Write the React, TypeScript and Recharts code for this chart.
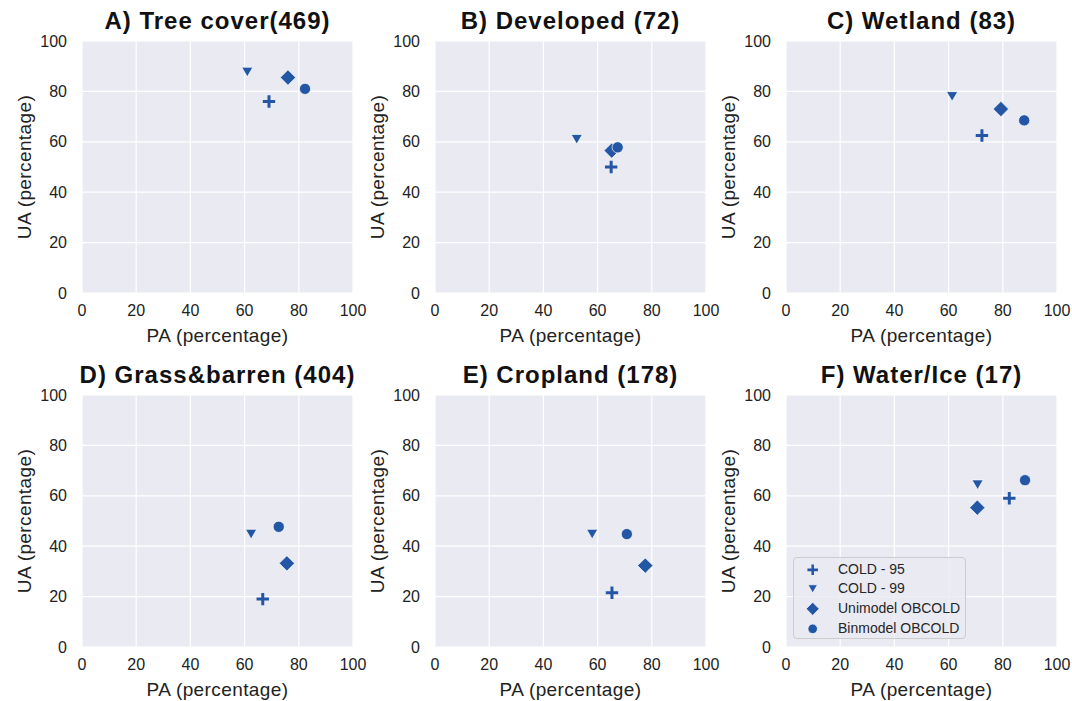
import { ScatterChart, Scatter, XAxis, YAxis, CartesianGrid, Legend } from "recharts";

const panelTitles = [
    "A) Tree cover(469)",
    "B) Developed (72)",
    "C) Wetland (83)",
    "D) Grass&barren (404)",
    "E) Cropland (178)",
    "F) Water/Ice (17)",
];
const seriesNames = ["COLD - 95", "COLD - 99", "Unimodel OBCOLD", "Binmodel OBCOLD"];
const axisTicks = [0, 20, 40, 60, 80, 100];

// PA / UA per panel (A..F)
const cold95PA = [69, 65, 72.3, 66.7, 65.3, 82.4];
const cold95UA = [76, 50, 62.5, 19, 21.5, 59];
const cold99PA = [61, 52.3, 61.3, 62.4, 58, 70.7];
const cold99UA = [87.7, 61, 78, 44.8, 44.8, 64.4];
const uniPA = [76, 65.2, 79.3, 75.6, 77.6, 70.6];
const uniUA = [85.5, 56.5, 73, 33.2, 32.3, 55.3];
const binPA = [82.3, 67.4, 87.9, 72.6, 70.8, 88.2];
const binUA = [81, 57.8, 68.5, 47.7, 44.8, 66.2];

const seriesPA = [cold95PA, cold99PA, uniPA, binPA];
const seriesUA = [cold95UA, cold99UA, uniUA, binUA];
const markerKinds = ["plus", "tri", "diamond", "circle"];

const BLUE = "#2357a5";
const FONT = "'Liberation Sans', Arial, sans-serif";
const CHART_W = 373;
const CHART_H = 350;
const colLeft = [0, 353, 704];
const rowTop = [0, 354];

function MarkerShape({ kind, cx, cy, scale = 1 }: { kind: string; cx: number; cy: number; scale?: number }) {
    if (cx == null || cy == null) return null;
    const s = scale;
    if (kind === "plus") {
        const h = 6.2 * s;
        return (
            <path
                d={`M${cx - h},${cy} H${cx + h} M${cx},${cy - h} V${cy + h}`}
                stroke={BLUE}
                strokeWidth={3 * s}
            />
        );
    }
    if (kind === "tri") {
        const w = 5.6 * s;
        const h = 4.8 * s;
        return (
            <polygon
                points={`${cx - w},${cy - h} ${cx + w},${cy - h} ${cx},${cy + h}`}
                fill={BLUE}
                stroke="white"
                strokeWidth={0.7}
            />
        );
    }
    if (kind === "diamond") {
        const d = 7.7 * s;
        return (
            <polygon
                points={`${cx},${cy - d} ${cx + d},${cy} ${cx},${cy + d} ${cx - d},${cy}`}
                fill={BLUE}
                stroke="white"
                strokeWidth={0.7}
            />
        );
    }
    return <circle cx={cx} cy={cy} r={5.6 * s} fill={BLUE} stroke="white" strokeWidth={0.7} />;
}

function LegendBox() {
    return (
        <div
            style={{
                width: 173,
                height: 82,
                boxSizing: "border-box",
                background: "rgba(234,234,242,0.8)",
                border: "1px solid #cccccc",
                borderRadius: 4,
                paddingTop: 1.5,
                fontFamily: FONT,
                fontSize: 14,
                color: "#262626",
            }}
        >
            {seriesNames.map((name, i) => (
                <div key={name} style={{ display: "flex", alignItems: "center", height: 19.7 }}>
                    <svg width={39} height={19.7} style={{ display: "block" }}>
                        <MarkerShape kind={markerKinds[i]} cx={18.7} cy={9.85} scale={0.85} />
                    </svg>
                    <span style={{ marginLeft: 5, lineHeight: "19.7px" }}>{name}</span>
                </div>
            ))}
        </div>
    );
}

function Panel({ idx }: { idx: number }) {
    const col = idx % 3;
    const row = Math.floor(idx / 3);
    const left = colLeft[col];
    const top = rowTop[row];
    return (
        <div style={{ position: "absolute", left, top, width: CHART_W, height: CHART_H }}>
            <div
                style={{
                    position: "absolute",
                    left: 82 - 40,
                    width: 271 + 80,
                    top: 9,
                    textAlign: "center",
                    fontFamily: FONT,
                    fontWeight: "bold",
                    fontSize: 24,
                    letterSpacing: 1,
                    lineHeight: "24px",
                    color: "#111",
                    whiteSpace: "nowrap",
                }}
            >
                {panelTitles[idx]}
            </div>
            <ScatterChart
                width={CHART_W}
                height={CHART_H}
                margin={{ top: 41, right: 20, bottom: 6, left: 12 }}
                style={{ position: "absolute", left: 0, top: 0 }}
            >
                <CartesianGrid fill="#eaeaf2" stroke="#ffffff" strokeWidth={1.2} />
                <XAxis
                    type="number"
                    dataKey="pa"
                    domain={[0, 100]}
                    ticks={axisTicks}
                    tickLine={false}
                    axisLine={false}
                    tickSize={8}
                    tickMargin={4}
                    height={51}
                    tick={{ fontSize: 16, fill: "#222", fontFamily: FONT }}
                    label={{
                        value: "PA (percentage)",
                        position: "insideBottom",
                        offset: 2,
                        style: { fontSize: 19, fill: "#222", fontFamily: FONT, letterSpacing: 0.4 },
                    }}
                />
                <YAxis
                    type="number"
                    dataKey="ua"
                    domain={[0, 100]}
                    ticks={axisTicks}
                    tickLine={false}
                    axisLine={false}
                    tickSize={10}
                    tickMargin={5}
                    width={70}
                    tick={{ fontSize: 16, fill: "#222", fontFamily: FONT }}
                    label={{
                        value: "UA (percentage)",
                        angle: -90,
                        position: "insideLeft",
                        offset: 12,
                        style: { fontSize: 19, fill: "#222", fontFamily: FONT, textAnchor: "middle", letterSpacing: 0.4 },
                    }}
                />
                {seriesNames.map((name, i) => (
                    <Scatter
                        key={name}
                        name={name}
                        data={[{ pa: seriesPA[i][idx], ua: seriesUA[i][idx] }]}
                        isAnimationActive={false}
                        shape={(p: any) => <MarkerShape kind={markerKinds[i]} cx={p.cx} cy={p.cy} />}
                    />
                ))}
                {idx === 5 && (
                    <Legend
                        layout="vertical"
                        align="center"
                        verticalAlign="middle"
                        content={() => <LegendBox />}
                        wrapperStyle={{ left: 89, top: 203, width: 173, height: 82 }}
                    />
                )}
            </ScatterChart>
        </div>
    );
}

export default function App() {
    return (
        <div
            style={{
                position: "absolute",
                left: 0,
                top: 0,
                width: 1072,
                height: 701,
                background: "white",
                overflow: "hidden",
            }}
        >
            {panelTitles.map((t, i) => (
                <Panel key={t} idx={i} />
            ))}
        </div>
    );
}
